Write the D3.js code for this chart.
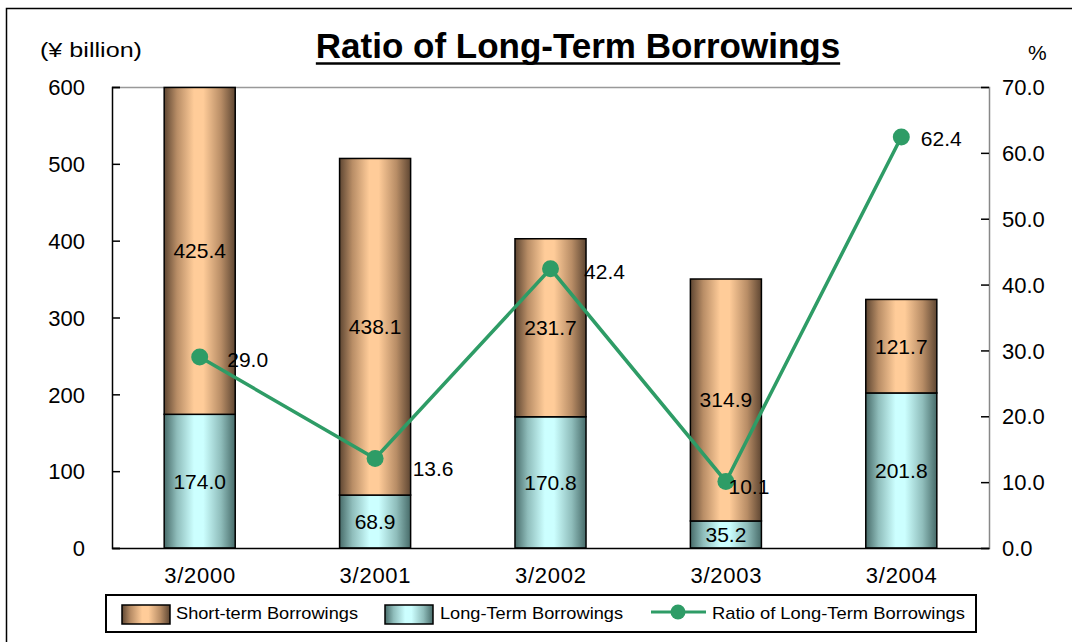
<!DOCTYPE html>
<html>
<head>
<meta charset="utf-8">
<script src="https://cdn.jsdelivr.net/npm/d3@7"></script>
<style>
  html, body { margin: 0; padding: 0; background: #fff; }
  svg { display: block; font-family: Arial, "Liberation Sans", sans-serif; }
</style>
</head>
<body>
<svg id="chart" width="1072" height="642"></svg>
<script>
// Fiscal period-end dates
const periods = ["3/2000", "3/2001", "3/2002", "3/2003", "3/2004"];
// Borrowings, ¥ billion
const shortTerm = [425.4, 438.1, 231.7, 314.9, 121.7];
const longTerm = [174.0, 68.9, 170.8, 35.2, 201.8];
// Long-term share of total borrowings, %
const ratio = [29.0, 13.6, 42.4, 10.1, 62.4];
// Axis ticks
const leftTicks = [0, 100, 200, 300, 400, 500, 600];
const rightTicks = [0, 10, 20, 30, 40, 50, 60, 70];

// Placement of the ratio labels relative to their markers
const ratioLabelDx = [48, 58, 54, 23, 40];
const ratioLabelDy = [2, 10, 3, 5, 1];

const FONT = "Arial, 'Liberation Sans', sans-serif";
const svg = d3.select("#chart");
const plot = { left: 112, right: 989, top: 87, bottom: 548 };

const x = d3.scaleBand().domain(periods).range([plot.left, plot.right]).paddingInner(0.595).paddingOuter(0.2975);
const y = d3.scaleLinear().domain([0, 600]).range([plot.bottom, plot.top]);
const yR = d3.scaleLinear().domain([0, 70]).range([plot.bottom, plot.top]);

// Cylinder-like shading for the bars
const defs = svg.append("defs");
function shade(id, edge, mid, light) {
  const g = defs.append("linearGradient").attr("id", id).attr("x1", 0).attr("x2", 1).attr("y1", 0).attr("y2", 0);
  [[0, edge], [0.18, mid], [0.42, light], [0.55, light], [0.8, mid], [1, edge]].forEach(([o, c]) =>
    g.append("stop").attr("offset", o).attr("stop-color", c));
}
shade("gShort", "#5e4632", "#b88d66", "#ffcc99");
shade("gLong", "#476b69", "#8fbdbb", "#ccffff");

// Outer frame (left and top edges)
svg.append("path").attr("d", "M6.5,642 V8.5 H1072").attr("fill", "none").attr("stroke", "#000").attr("stroke-width", 1.5);

// Title
const title = svg.append("text").attr("x", 578).attr("y", 58).attr("text-anchor", "middle")
  .attr("font-size", 35).attr("font-weight", "bold").attr("fill", "#000").text("Ratio of Long-Term Borrowings");
const tb = title.node().getBBox();
svg.append("line").attr("x1", tb.x).attr("x2", tb.x + tb.width).attr("y1", 63.5).attr("y2", 63.5)
  .attr("stroke", "#000").attr("stroke-width", 2.5);

// Unit captions
svg.append("text").attr("x", 40).attr("y", 57).attr("font-size", 21).attr("textLength", 102)
  .attr("lengthAdjust", "spacingAndGlyphs").text("(¥ billion)");
svg.append("text").attr("x", 1028).attr("y", 60).attr("font-size", 21).text("%");

// Top border of the plot area
svg.append("line").attr("x1", plot.left).attr("x2", plot.right).attr("y1", plot.top + 0.5).attr("y2", plot.top + 0.5)
  .attr("stroke", "#999").attr("stroke-width", 1.5);

// Stacked bars
const bars = svg.append("g");
periods.forEach((p, i) => {
  const bx = x(p), bw = x.bandwidth();
  bars.append("rect").attr("x", bx).attr("width", bw)
    .attr("y", y(longTerm[i])).attr("height", y(0) - y(longTerm[i]))
    .attr("fill", "url(#gLong)").attr("stroke", "#000").attr("stroke-width", 1.5);
  bars.append("rect").attr("x", bx).attr("width", bw)
    .attr("y", y(longTerm[i] + shortTerm[i])).attr("height", y(longTerm[i]) - y(longTerm[i] + shortTerm[i]))
    .attr("fill", "url(#gShort)").attr("stroke", "#000").attr("stroke-width", 1.5);
  const cx = bx + bw / 2;
  bars.append("text").attr("x", cx).attr("y", (y(0) + y(longTerm[i])) / 2 + 7.5)
    .attr("text-anchor", "middle").attr("font-size", 21).text(longTerm[i].toFixed(1));
  bars.append("text").attr("x", cx).attr("y", (y(longTerm[i]) + y(longTerm[i] + shortTerm[i])) / 2 + 7.5)
    .attr("text-anchor", "middle").attr("font-size", 21).text(shortTerm[i].toFixed(1));
});

// Left axis
const leftAxis = svg.append("g").attr("transform", `translate(${plot.left},0)`)
  .call(d3.axisLeft(y).tickValues(leftTicks).tickSize(-8).tickPadding(27).tickFormat(d3.format("d")));
leftAxis.select(".domain").attr("stroke", "#000").attr("stroke-width", 1.5);
leftAxis.selectAll(".tick line").attr("stroke", "#000").attr("stroke-width", 1.5);
leftAxis.selectAll("text").attr("font-size", 22).attr("font-family", FONT).attr("fill", "#000").attr("dy", "0.35em");

// Right axis
const rightAxis = svg.append("g").attr("transform", `translate(${plot.right},0)`)
  .call(d3.axisRight(yR).tickValues(rightTicks).tickSize(-8).tickPadding(13).tickFormat(d3.format(".1f")));
rightAxis.select(".domain").attr("stroke", "#888").attr("stroke-width", 1.5);
rightAxis.selectAll(".tick line").attr("stroke", "#000").attr("stroke-width", 1.5);
rightAxis.selectAll("text").attr("font-size", 22).attr("font-family", FONT).attr("fill", "#000").attr("dy", "0.35em");

// Bottom axis
const bottomAxis = svg.append("g").attr("transform", `translate(0,${plot.bottom})`)
  .call(d3.axisBottom(x).tickSize(0).tickPadding(19));
bottomAxis.select(".domain").attr("stroke", "#000").attr("stroke-width", 1.5);
bottomAxis.selectAll("text").attr("font-size", 22).attr("font-family", FONT).attr("fill", "#000").attr("dy", "0.71em")
  .attr("textLength", 71).attr("lengthAdjust", "spacing");

// Ratio line with markers
const lineColor = "#2e9c66";
const cxOf = i => x(periods[i]) + x.bandwidth() / 2;
svg.append("path").datum(ratio)
  .attr("d", d3.line().x((d, i) => cxOf(i)).y(d => yR(d)))
  .attr("fill", "none").attr("stroke", lineColor).attr("stroke-width", 3.5);
svg.append("g").selectAll("circle").data(ratio).join("circle")
  .attr("cx", (d, i) => cxOf(i)).attr("cy", d => yR(d)).attr("r", 8.5).attr("fill", lineColor);
svg.append("g").selectAll("text").data(ratio).join("text")
  .attr("x", (d, i) => cxOf(i) + ratioLabelDx[i]).attr("y", (d, i) => yR(d) + ratioLabelDy[i] + 7.5)
  .attr("text-anchor", "middle").attr("font-size", 21).text(d => d.toFixed(1));

// Legend
const lg = svg.append("g");
lg.append("rect").attr("x", 106).attr("y", 595).attr("width", 870).attr("height", 37)
  .attr("fill", "#fff").attr("stroke", "#000").attr("stroke-width", 2);
lg.append("rect").attr("x", 122).attr("y", 605).attr("width", 48).attr("height", 19)
  .attr("fill", "url(#gShort)").attr("stroke", "#000").attr("stroke-width", 1.5);
lg.append("text").attr("x", 176).attr("y", 619).attr("font-size", 17).attr("textLength", 182)
  .attr("lengthAdjust", "spacingAndGlyphs").text("Short-term Borrowings");
lg.append("rect").attr("x", 385).attr("y", 605).attr("width", 48).attr("height", 19)
  .attr("fill", "url(#gLong)").attr("stroke", "#000").attr("stroke-width", 1.5);
lg.append("text").attr("x", 440).attr("y", 619).attr("font-size", 17).attr("textLength", 183)
  .attr("lengthAdjust", "spacingAndGlyphs").text("Long-Term Borrowings");
lg.append("line").attr("x1", 651).attr("x2", 706).attr("y1", 612).attr("y2", 612)
  .attr("stroke", lineColor).attr("stroke-width", 3);
lg.append("circle").attr("cx", 678).attr("cy", 612).attr("r", 7.5).attr("fill", lineColor);
lg.append("text").attr("x", 712).attr("y", 619).attr("font-size", 17).attr("textLength", 253)
  .attr("lengthAdjust", "spacingAndGlyphs").text("Ratio of  Long-Term Borrowings");
</script>
</body>
</html>
